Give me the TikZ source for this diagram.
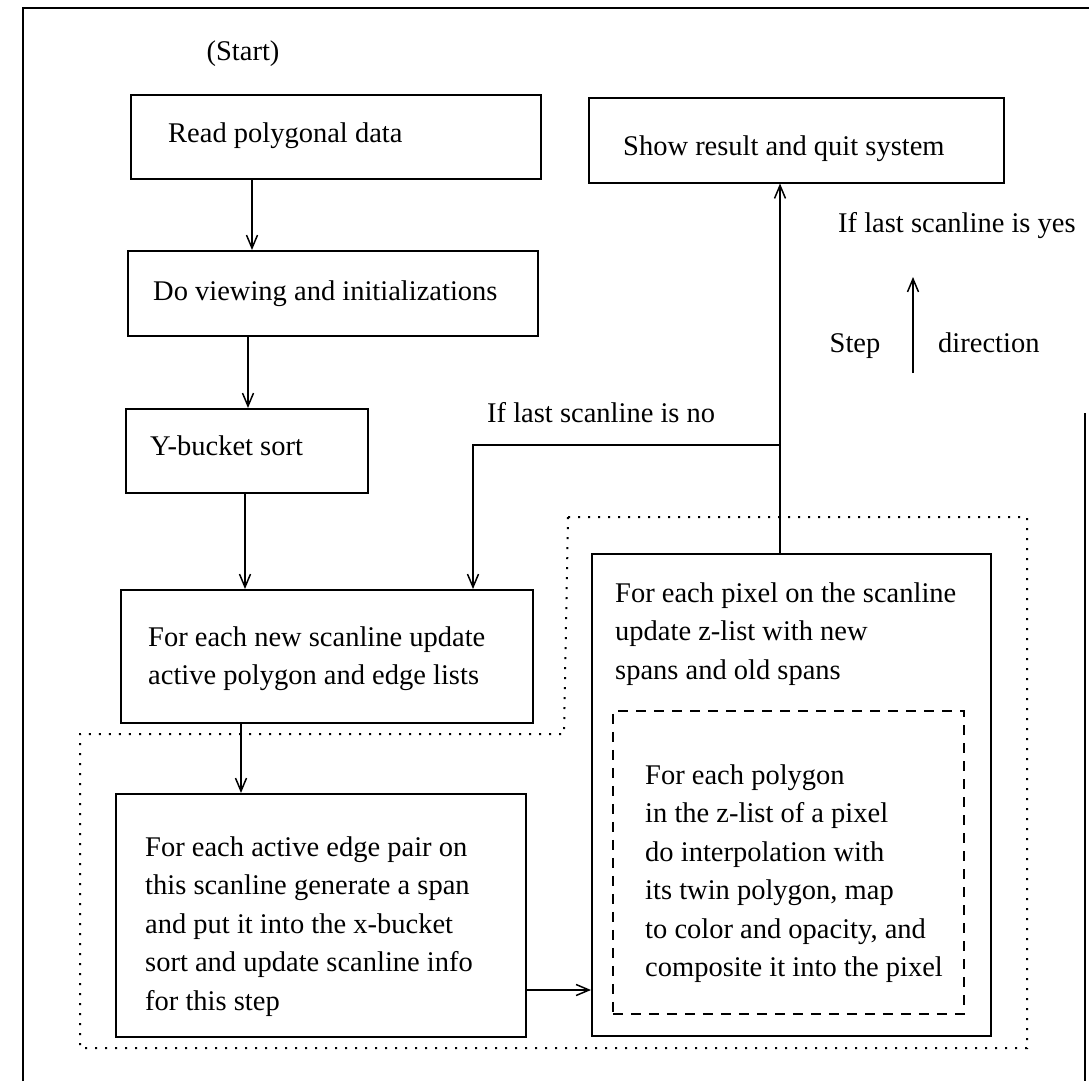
\documentclass[tikz,border=0pt]{standalone}
\usepackage{fontspec}
\setmainfont{Liberation Serif}
\usetikzlibrary{arrows.meta}

\tikzset{
  box/.style={draw, line width=1.5pt, rectangle, inner sep=0pt, anchor=north west},
  txt/.style={inner sep=0pt, align=left, font=\fontsize{28.5}{38.5}\selectfont},
  flow/.style={line width=1.5pt, -{Straight Barb[length=13pt,width=11pt,line width=1.5pt]}},
  groupline/.style={line width=2pt, dash pattern=on 2pt off 8pt},
  innerline/.style={line width=1.5pt, dash pattern=on 10pt off 8pt},
}

\begin{document}
\begin{tikzpicture}[x=1pt, y=-1pt]
\useasboundingbox (0,0) rectangle (1089,1081);

% outer frame (open at the bottom and upper right)
\draw[line width=2.5pt] (23,1081) -- (23,8) -- (1089,8);
\draw[line width=2.5pt] (1085,413) -- (1085,1081);

% dotted grouping around the scanline stages
\draw[groupline] (568,517) -- (1027,517) -- (1027,1048) -- (80,1048)
  -- (80,734) -- (564,734) -- cycle;

% boxes
\node[box, minimum width=410pt, minimum height=84pt] (read) at (130,94) {};
\node[box, minimum width=415pt, minimum height=85pt] (show) at (588,97) {};
\node[box, minimum width=410pt, minimum height=85pt] (view) at (127,250) {};
\node[box, minimum width=242pt, minimum height=84pt] (ysort) at (125,408) {};
\node[box, minimum width=412pt, minimum height=133pt] (update) at (120,589) {};
\node[box, minimum width=410pt, minimum height=243pt] (span) at (115,793) {};
\node[box, minimum width=399pt, minimum height=482pt] (pixel) at (591,553) {};
\node[box, innerline, minimum width=351pt, minimum height=303pt] (poly) at (612,710) {};

% texts
\node[txt, anchor=base] (start) at (243,60) {(Start)};
\node[txt, anchor=base west] (treadd) at (168,142) {Read polygonal data};
\node[txt, anchor=base west] (tshow) at (623,155) {Show result and quit system};
\node[txt, anchor=base west] (tview) at (153,300) {Do viewing and initializations};
\node[txt, anchor=base west] (tysort) at (150,455) {Y-bucket sort};
\node[txt, anchor=north west] (tupdate) at (148,626.5)
  {For each new scanline update\\active polygon and edge lists};
\node[txt, anchor=north west] (tspan) at (145,836.5)
  {For each active edge pair on\\this scanline generate a span\\and put it into the x-bucket\\sort and update scanline info\\for this step};
\node[txt, anchor=north west] (tpixel) at (615,582.5)
  {For each pixel on the scanline\\update z-list with new\\spans and old spans};
\node[txt, anchor=north west] (tpoly) at (645,764.5)
  {For each polygon\\in the z-list of a pixel\\do interpolation with\\its twin polygon, map\\to color and opacity, and\\composite it into the pixel};
\node[txt, anchor=base west] (tno) at (487,422) {If last scanline is no};
\node[txt, anchor=base west] (tyes) at (838,232) {If last scanline is yes};
\node[txt, anchor=base] (tstep) at (855,352) {Step};
\node[txt, anchor=base west] (tdir) at (938,352) {direction};

% step direction marker
\coordinate (stepfoot) at (913,373);
\coordinate (stephead) at (913,277);
\draw[flow] (stepfoot) -- (stephead);

% main flow
\draw[flow] (read.south -| 252,0) -- (view.north -| 252,0);
\draw[flow] (view.south -| 248,0) -- (ysort.north -| 248,0);
\draw[flow] (ysort.south -| 245,0) -- (update.north -| 245,0);
\draw[flow] (update.south -| 241,0) -- (span.north -| 241,0);
\draw[flow] (span.east |- 0,990) -- (pixel.west |- 0,990);

% loop back from the pixel stage
\coordinate (branch) at (780,445);
\draw[flow] (pixel.north -| branch) -- (branch) -- (show.south -| branch);
\draw[flow] (branch) -- (473,445) -- (update.north -| 473,0);
\end{tikzpicture}
\end{document}
